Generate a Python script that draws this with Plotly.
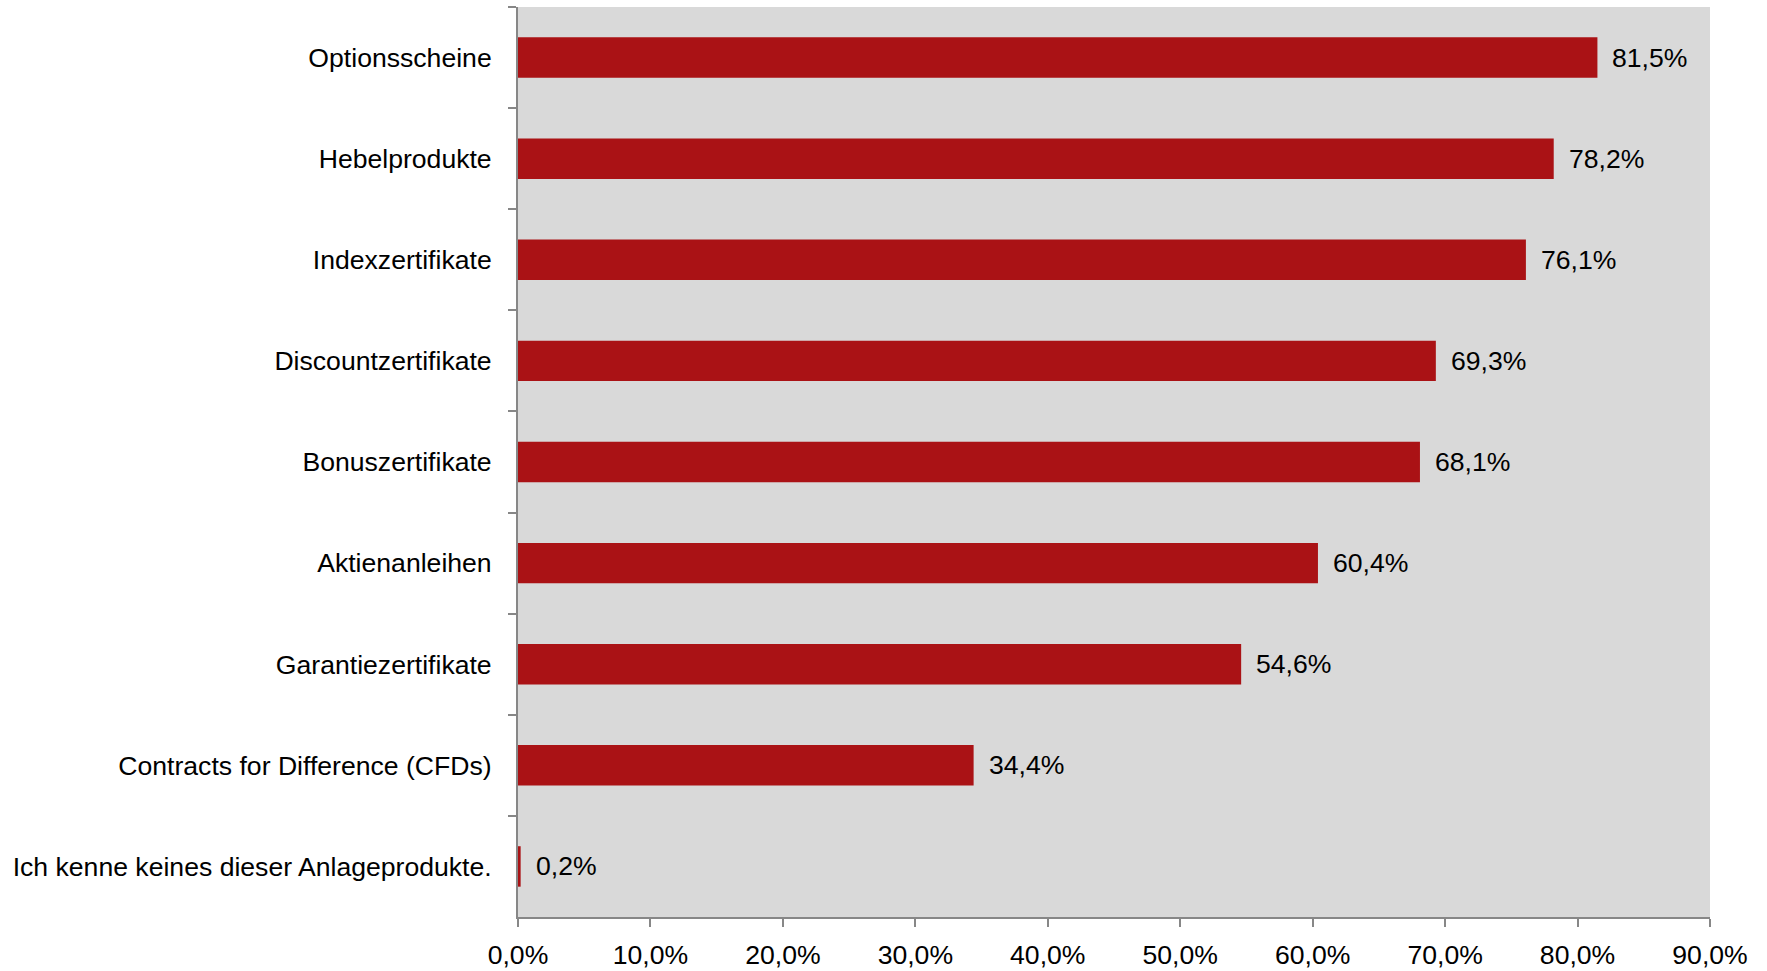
import plotly.graph_objects as go

categories = [
    "Optionsscheine",
    "Hebelprodukte",
    "Indexzertifikate",
    "Discountzertifikate",
    "Bonuszertifikate",
    "Aktienanleihen",
    "Garantiezertifikate",
    "Contracts for Difference (CFDs)",
    "Ich kenne keines dieser Anlageprodukte.",
]
values = [81.5, 78.2, 76.1, 69.3, 68.1, 60.4, 54.6, 34.4, 0.2]
tick_values = [0, 10, 20, 30, 40, 50, 60, 70, 80, 90]
tick_labels = [f"{v:.1f}%".replace(".", ",") for v in tick_values]
value_labels = [f"{v:.1f}%".replace(".", ",") for v in values]

FONT = "Liberation Sans, Arial, sans-serif"
AXIS_COLOR = "#878787"
FS = 26.6

fig = go.Figure()
fig.add_trace(go.Bar(
    x=values,
    y=categories,
    orientation="h",
    marker=dict(color="#AA1215", line=dict(width=0)),
    width=0.4,
    hoverinfo="skip",
))

for c, v, t in zip(categories, values, value_labels):
    fig.add_annotation(
        x=v, y=c, text=t, showarrow=False,
        xanchor="left", yanchor="middle", xshift=13,
        font=dict(family=FONT, size=FS, color="#000000"),
    )

fig.update_layout(
    width=1767, height=971,
    margin=dict(l=518, r=57, t=7, b=54),
    paper_bgcolor="#FFFFFF",
    plot_bgcolor="#D9D9D9",
    showlegend=False,
    separators=",.",
    font=dict(family=FONT, size=FS, color="#000000"),
)
fig.update_xaxes(
    range=[0, 90],
    tickvals=tick_values,
    ticktext=tick_labels,
    automargin=False,
    showgrid=False,
    zeroline=False,
    showline=True,
    linecolor=AXIS_COLOR,
    linewidth=2,
    ticks="outside",
    ticklen=8,
    tickwidth=2,
    tickcolor=AXIS_COLOR,
    tickfont=dict(family=FONT, size=FS, color="#000000"),
    ticklabelstandoff=5,
)
fig.update_yaxes(
    categoryorder="array",
    categoryarray=categories,
    autorange="reversed",
    automargin=False,
    showgrid=False,
    zeroline=False,
    showline=True,
    linecolor=AXIS_COLOR,
    linewidth=2,
    ticks="outside",
    tickson="boundaries",
    ticklen=8,
    tickwidth=2,
    tickcolor=AXIS_COLOR,
    tickfont=dict(family=FONT, size=FS, color="#000000"),
    ticklabelstandoff=19,
)

fig.write_html(
    "out.html",
    config={"displayModeBar": False},
    post_script="document.body.style.margin='0';document.body.style.overflow='hidden';",
)
